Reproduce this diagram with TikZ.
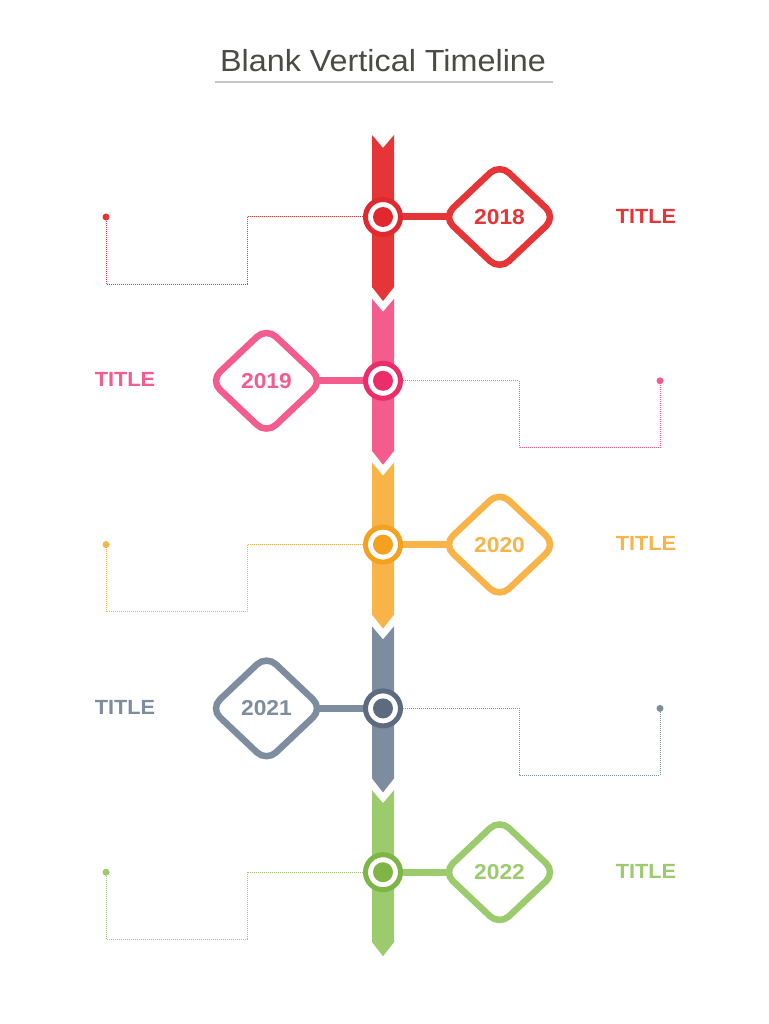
\documentclass[tikz,border=0pt]{standalone}
\usepackage{fontspec}
\setmainfont[FakeStretch=1.06]{Liberation Sans}
\usetikzlibrary{shapes.geometric}
\pgfdeclarelayer{back}
\pgfsetlayers{back,main}
\definecolor{barA}{HTML}{E63537}\definecolor{ringA}{HTML}{E0282E}
\definecolor{barB}{HTML}{F45C8D}\definecolor{ringB}{HTML}{EC2D6A}
\definecolor{barC}{HTML}{F8B448}\definecolor{ringC}{HTML}{F4A11F}
\definecolor{barD}{HTML}{7D8C9E}\definecolor{ringD}{HTML}{5C6B7E}
\definecolor{barE}{HTML}{9CCB6E}\definecolor{ringE}{HTML}{7EB546}
\definecolor{titlegray}{HTML}{4A4A46}
\tikzset{
  yearbox/.style={shape=diamond, draw=#1, line width=6.5pt, rounded corners=13pt,
    minimum width=112pt, minimum height=106pt, inner sep=0pt, outer sep=0pt, fill=white,
    text=#1, font=\fontsize{21.5}{25}\selectfont\bfseries},
  ringnode/.style={shape=circle, draw=#1, fill=white, line width=5pt,
    minimum size=35pt, inner sep=0pt},
  linkline/.style={draw=#1, line width=7pt},
  dotline/.style={draw=#1, line width=1pt, dash pattern=on 1pt off 1pt},
  titletext/.style={text=#1, font=\fontsize{20.5}{24}\selectfont\bfseries},
}
% #1 id, #2 circle y, #3 bar colour, #4 ring colour, #5 year, #6 side (1 = diamond right, -1 = left)
\newcommand\tlrow[6]{%
  \pgfmathsetmacro\rowT{#2-82}%
  \pgfmathsetmacro\rowB{\rowT+152}%
  \fill[#3] (372,\rowT) -- (383,\rowT+13) -- (394,\rowT) -- (394,\rowB)
     -- (383,\rowB+14) -- (372,\rowB) -- cycle;
  \node[yearbox=#3] (dia#1) at ({383+#6*116.5},#2) {#5};
  \node[titletext=#3] (title#1) at ({#6>0 ? 646 : 125},#2-1) {TITLE};
  \node[ringnode=#4] (circ#1) at (383,#2) {};
  \begin{pgfonlayer}{back}
    \draw[linkline=#3] (circ#1.center) -- (dia#1.center);
  \end{pgfonlayer}
  \fill[#4] (circ#1) circle (10pt);
  \coordinate (cornA#1) at ({383-#6*136},#2);
  \coordinate (cornB#1) at ({383-#6*136},#2+67);
  \coordinate (cornC#1) at ({383-#6*277},#2+67);
  \coordinate (dot#1) at ({383-#6*277},#2);
  \draw[dotline=#3] (circ#1) -- (cornA#1) -- (cornB#1) -- (cornC#1) -- (dot#1);
  \fill[#3] (dot#1) circle (3.5pt);
}
\begin{document}
\begin{tikzpicture}[x=1pt,y=-1pt]
  \begin{pgfonlayer}{back}
    \fill[white] (0,0) rectangle (768,1024);
  \end{pgfonlayer}
  \useasboundingbox (0,0) rectangle (768,1024);
  \node[anchor=base, text=titlegray, font=\fontsize{30.5}{36}\selectfont] (maintitle) at (383,72) {Blank Vertical Timeline};
  \draw[black!22, line width=1.5pt] (215,82) -- (553,82);
  \tlrow{A}{217}{barA}{ringA}{2018}{1}
  \tlrow{B}{380.8}{barB}{ringB}{2019}{-1}
  \tlrow{C}{544.6}{barC}{ringC}{2020}{1}
  \tlrow{D}{708.4}{barD}{ringD}{2021}{-1}
  \tlrow{E}{872.2}{barE}{ringE}{2022}{1}
\end{tikzpicture}
\end{document}
